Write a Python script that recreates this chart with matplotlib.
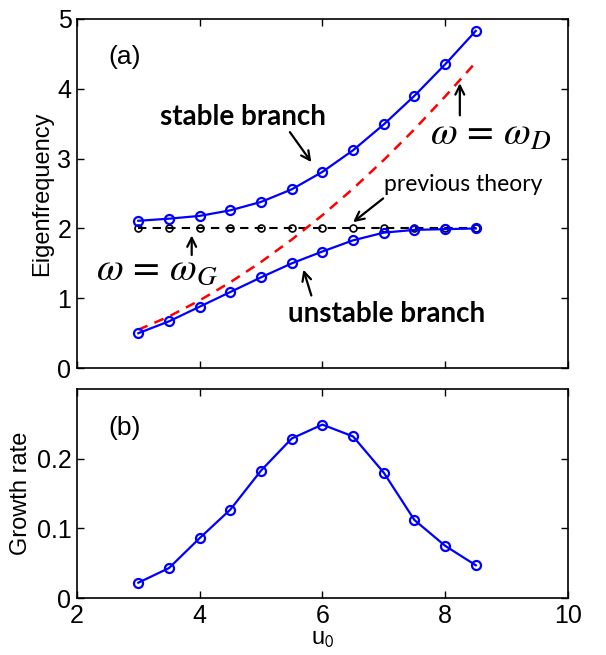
import matplotlib
matplotlib.use("Agg")
import matplotlib.pyplot as plt

plt.rcParams['font.family'] = ['Liberation Sans', 'DejaVu Sans']
plt.rcParams['mathtext.fontset'] = 'stix'

u0 = [3.0, 3.5, 4.0, 4.5, 5.0, 5.5, 6.0, 6.5, 7.0, 7.5, 8.0, 8.5]
stable = [2.11, 2.14, 2.18, 2.26, 2.38, 2.56, 2.81, 3.12, 3.49, 3.90, 4.35, 4.83]
unstable = [0.50, 0.67, 0.88, 1.09, 1.30, 1.50, 1.67, 1.83, 1.94, 1.98, 1.99, 2.00]
omega_D = [0.55, 0.74, 0.97, 1.23, 1.52, 1.84, 2.19, 2.57, 2.98, 3.42, 3.89, 4.38]
previous = [2.0, 2.0, 2.0, 2.0, 2.0, 2.0, 2.0, 2.0, 2.0, 2.0, 2.0, 2.0]
growth = [0.022, 0.043, 0.086, 0.127, 0.183, 0.229, 0.249, 0.232, 0.180, 0.112, 0.075, 0.047]

fig = plt.figure(figsize=(6.06, 6.55), dpi=100)
ax1 = fig.add_axes([0.127, 0.438, 0.810, 0.533])
ax2 = fig.add_axes([0.127, 0.087, 0.810, 0.319])

blue = '#0000ff'
for ax in (ax1, ax2):
    ax.set_xlim(2, 10)
    ax.tick_params(direction='in', top=True, right=True, length=5, width=1.0,
                   labelsize=18, pad=4)
    for s in ax.spines.values():
        s.set_linewidth(1.2)

# Panel (a)
ax1.plot(u0, previous, '--', color='black', lw=1.5, marker='o', ms=5,
         mfc='none', mec='black', mew=1.2, dashes=(4, 3))
ax1.plot(u0, omega_D, '--', color='red', lw=1.8, dashes=(4, 3))
ax1.plot(u0, stable, '-', color=blue, lw=1.6, marker='o', ms=6.5,
         mfc='none', mec=blue, mew=1.6)
ax1.plot(u0, unstable, '-', color=blue, lw=1.6, marker='o', ms=6.5,
         mfc='none', mec=blue, mew=1.6)
ax1.set_ylim(0, 5)
ax1.set_yticks([0, 1, 2, 3, 4, 5])
ax1.set_xticks([2, 4, 6, 8, 10])
ax1.set_xticklabels([])
ax1.set_ylabel('Eigenfrequency', fontsize=17, labelpad=3)

ax1.text(2.78, 4.46, '(a)', fontsize=19, ha='center', va='center')

ax1.text(4.70, 3.60, 'stable branch', fontsize=20, fontweight='bold',
         family='Lato', ha='center', va='center')
ax1.text(7.04, 0.78, 'unstable branch', fontsize=20, fontweight='bold',
         family='Lato', ha='center', va='center')
ax1.text(8.29, 2.63, 'previous theory', fontsize=16.5, family='Lato',
         ha='center', va='center')
ax1.text(8.75, 3.34, r'$\omega\,=\,\omega_D$', fontsize=28, ha='center', va='center')
ax1.text(3.30, 1.40, r'$\omega\,=\,\omega_G$', fontsize=28, ha='center', va='center')

arr = dict(arrowstyle='->', color='black', lw=1.6, mutation_scale=16,
           shrinkA=0, shrinkB=0)
ax1.annotate('', xy=(5.82, 2.95), xytext=(5.47, 3.38), arrowprops=arr)
ax1.annotate('', xy=(5.69, 1.41), xytext=(5.82, 1.04), arrowprops=arr)
ax1.annotate('', xy=(6.50, 2.09), xytext=(6.99, 2.43), arrowprops=arr)
ax1.annotate('', xy=(8.24, 4.08), xytext=(8.24, 3.62), arrowprops=arr)
ax1.annotate('', xy=(3.87, 1.90), xytext=(3.87, 1.62), arrowprops=arr)

# Panel (b)
ax2.plot(u0, growth, '-', color=blue, lw=1.6, marker='o', ms=6.5,
         mfc='none', mec=blue, mew=1.6)
ax2.set_ylim(0, 0.3)
ax2.set_yticks([0, 0.1, 0.2])
ax2.set_yticklabels(['0', '0.1', '0.2'])
ax2.set_xticks([2, 4, 6, 8, 10])
ax2.set_ylabel('Growth rate', fontsize=17, labelpad=3)
ax2.set_xlabel(r'u$_{\mathsf{0}}$', fontsize=17, labelpad=0)
ax2.text(2.78, 0.244, '(b)', fontsize=19, ha='center', va='center')

fig.savefig('out.png', dpi=100)
